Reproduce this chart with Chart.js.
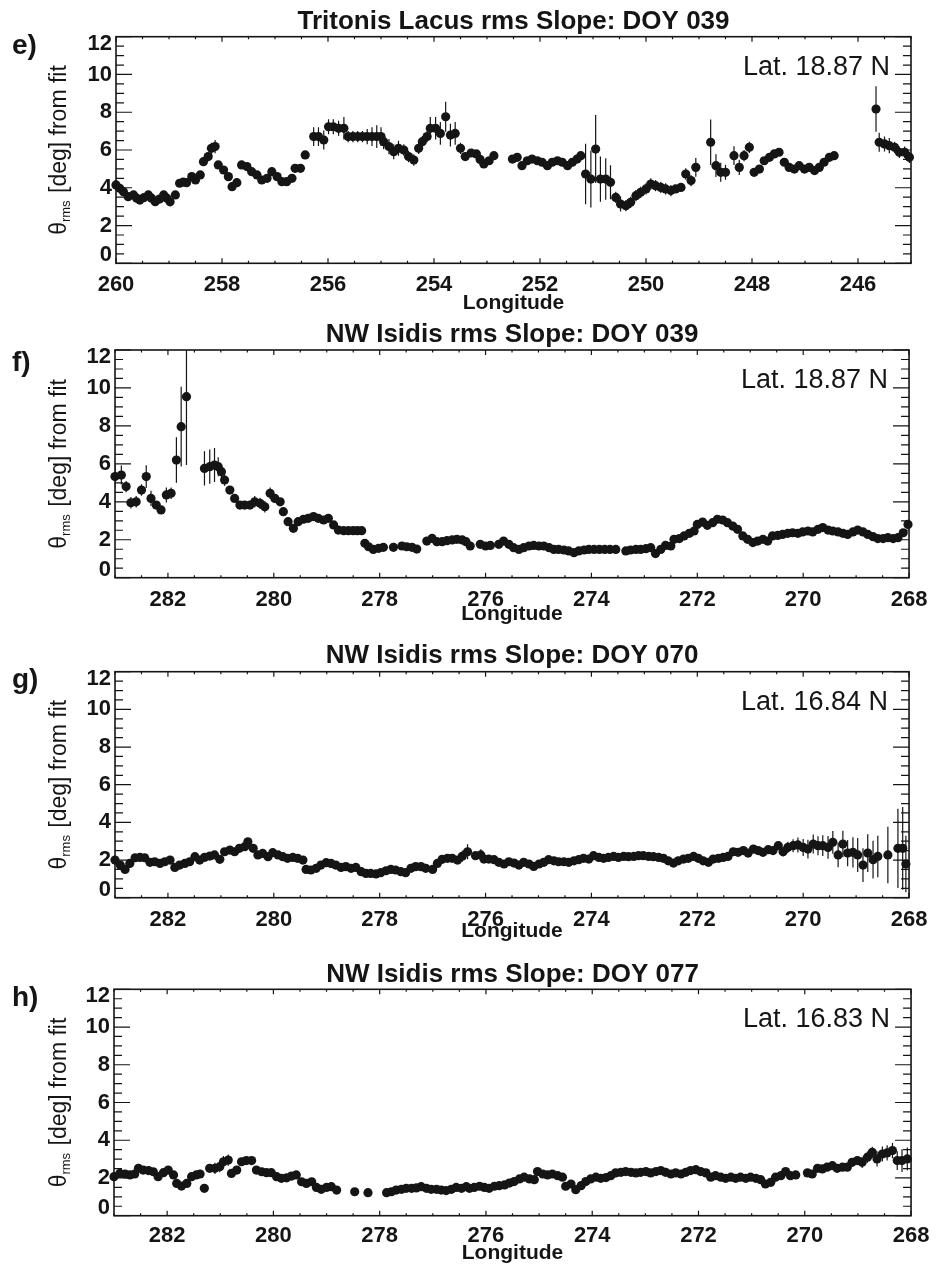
<!DOCTYPE html>
<html>
<head>
<meta charset="utf-8">
<script src="https://cdn.jsdelivr.net/npm/chart.js@4/dist/chart.umd.min.js"></script>
<style>
html,body{margin:0;padding:0;background:#fff;}
#wrap{position:relative;width:936px;height:1270px;overflow:hidden;background:#fff;}
canvas{position:absolute;left:0;}
</style>
</head>
<body>
<div id="wrap">
<canvas id="cE" width="936" height="317" style="top:0px"></canvas>
<canvas id="cF" width="936" height="319" style="top:317px"></canvas>
<canvas id="cG" width="936" height="319" style="top:636px"></canvas>
<canvas id="cH" width="936" height="315" style="top:955px"></canvas>
</div>
<script>
// ---------------- data ----------------
const yTicks = [0, 2, 4, 6, 8, 10, 12];
const xTicksTritonis = [260, 258, 256, 254, 252, 250, 248, 246];
const xTicksIsidis = [282, 280, 278, 276, 274, 272, 270, 268];

const titles = [
  'Tritonis Lacus rms Slope: DOY 039',
  'NW Isidis rms Slope: DOY 039',
  'NW Isidis rms Slope: DOY 070',
  'NW Isidis rms Slope: DOY 077'
];
const panelLetters = ['e)', 'f)', 'g)', 'h)'];
const latLabels = ['Lat. 18.87 N', 'Lat. 18.87 N', 'Lat. 16.84 N', 'Lat. 16.83 N'];
const xTitle = 'Longitude';
const yTitleParts = ['\u03B8', 'rms', ' [deg] from fit'];

// [longitude, rms slope (deg), error (deg)]
const pointsE = [
[260.00,4.15,0.2],[259.93,3.97,0.15],[259.86,3.79,0.15],[259.77,3.53,0.15],[259.67,3.62,0.15],[259.61,3.45,0.15],
[259.55,3.35,0.15],[259.47,3.48,0.15],[259.39,3.62,0.15],[259.33,3.45,0.15],[259.26,3.26,0.15],[259.18,3.40,0.15],
[259.10,3.62,0.2],[259.04,3.45,0.2],[258.98,3.26,0.25],[258.88,3.62,0.2],[258.80,4.24,0.2],[258.73,4.30,0.15],
[258.67,4.27,0.15],[258.57,4.59,0.15],[258.50,4.41,0.15],[258.41,4.68,0.15],[258.35,5.38,0.2],[258.26,5.65,0.25],
[258.20,6.09,0.3],[258.13,6.18,0.35],[258.07,5.21,0.2],[257.97,4.94,0.2],[257.88,4.59,0.15],[257.81,4.06,0.15],
[257.72,4.27,0.15],[257.63,5.21,0.15],[257.53,5.12,0.15],[257.44,4.85,0.15],[257.34,4.68,0.15],[257.25,4.41,0.15],
[257.15,4.50,0.15],[257.06,4.85,0.15],[256.96,4.59,0.15],[256.87,4.32,0.15],[256.78,4.32,0.15],[256.68,4.50,0.15],
[256.62,5.03,0.15],[256.52,5.03,0.2],[256.43,5.74,0.2],[256.27,6.71,0.5],[256.18,6.71,0.5],[256.08,6.53,0.5],
[255.99,7.23,0.4],[255.90,7.23,0.4],[255.80,7.15,0.4],[255.70,7.15,0.6],[255.62,6.71,0.3],[255.53,6.71,0.3],
[255.44,6.71,0.3],[255.35,6.71,0.3],[255.26,6.71,0.4],[255.17,6.71,0.5],[255.08,6.71,0.6],[255.00,6.71,0.5],
[254.95,6.44,0.4],[254.85,6.18,0.4],[254.76,5.91,0.4],[254.67,6.09,0.4],[254.57,6.00,0.3],[254.48,5.65,0.3],
[254.38,5.47,0.3],[254.29,6.09,0.3],[254.22,6.44,0.3],[254.13,6.71,0.3],[254.07,7.15,0.6],[253.97,7.15,0.6],
[253.88,6.88,0.6],[253.78,7.76,0.8],[253.69,6.79,0.6],[253.60,6.88,0.6],[253.50,6.09,0.3],[253.41,5.65,0.2],
[253.30,5.84,0.2],[253.20,5.79,0.2],[253.13,5.50,0.15],[253.06,5.26,0.15],[252.96,5.43,0.15],[252.87,5.70,0.15],
[252.52,5.52,0.1],[252.43,5.61,0.1],[252.34,5.17,0.1],[252.24,5.43,0.1],[252.15,5.52,0.1],[252.05,5.43,0.1],
[251.96,5.35,0.1],[251.86,5.17,0.1],[251.77,5.35,0.1],[251.67,5.43,0.1],[251.58,5.35,0.1],[251.48,5.17,0.1],
[251.39,5.35,0.1],[251.30,5.52,0.15],[251.23,5.70,0.15],[251.14,4.73,1.6],[251.04,4.46,1.5],[250.95,6.05,1.8],
[250.86,4.46,1.2],[250.76,4.46,1.1],[250.67,4.29,0.9],[250.57,3.49,0.3],[250.48,3.14,0.4],[250.38,3.05,0.3],
[250.29,3.23,0.3],[250.19,3.58,0.3],[250.10,3.76,0.3],[250.00,3.94,0.3],[249.91,4.20,0.3],[249.82,4.11,0.3],
[249.72,4.02,0.3],[249.63,3.94,0.3],[249.53,3.85,0.3],[249.44,3.94,0.2],[249.34,4.02,0.2],[249.25,4.73,0.3],
[249.15,4.38,0.3],[249.06,5.08,0.5],[248.78,6.41,1.2],[248.68,5.17,0.6],[248.59,4.82,0.5],[248.50,4.82,0.4],
[248.34,5.70,0.5],[248.24,5.08,0.4],[248.15,5.70,0.3],[248.05,6.14,0.3],[247.96,4.82,0.2],[247.86,4.99,0.2],
[247.77,5.43,0.2],[247.67,5.61,0.2],[247.58,5.79,0.2],[247.49,5.88,0.2],[247.39,5.35,0.15],[247.30,5.08,0.15],
[247.20,4.99,0.1],[247.11,5.17,0.1],[247.01,4.99,0.1],[246.92,5.08,0.1],[246.82,4.91,0.1],[246.73,5.08,0.1],
[246.64,5.35,0.1],[246.54,5.61,0.15],[246.45,5.70,0.15],[245.66,8.17,1.2],[245.60,6.41,0.5],[245.50,6.32,0.4],
[245.41,6.23,0.4],[245.31,6.14,0.3],[245.22,5.88,0.3],[245.12,5.88,0.3],[245.03,5.61,0.3]
];

const pointsF = [
[283.00,5.33,0.6],[282.88,5.41,0.5],[282.79,4.80,0.3],[282.70,3.95,0.3],[282.60,4.00,0.3],[282.50,4.62,0.3],
[282.41,5.33,0.6],[282.32,4.18,0.4],[282.22,3.83,0.2],[282.13,3.57,0.2],[282.03,4.36,0.4],[281.94,4.45,0.3],
[281.84,6.20,1.2],[281.75,7.96,2.1],[281.65,9.54,3.6],[281.31,5.76,0.9],[281.21,5.85,0.9],[281.12,5.94,0.9],
[281.05,5.85,0.5],[280.99,5.59,0.3],[280.93,5.15,0.3],[280.83,4.62,0.2],[280.74,4.18,0.2],[280.64,3.83,0.2],
[280.55,3.83,0.2],[280.45,3.83,0.2],[280.36,4.00,0.3],[280.26,3.92,0.3],[280.17,3.74,0.3],[280.07,4.45,0.3],
[279.98,4.18,0.2],[279.88,4.00,0.2],[279.82,3.48,0.15],[279.73,2.95,0.15],[279.63,2.60,0.1],[279.54,2.95,0.1],
[279.44,3.08,0.1],[279.35,3.13,0.1],[279.25,3.22,0.1],[279.16,3.13,0.1],[279.06,3.04,0.1],[278.97,3.13,0.1],
[278.87,2.78,0.1],[278.78,2.51,0.1],[278.68,2.48,0.1],[278.59,2.48,0.1],[278.50,2.48,0.1],[278.42,2.48,0.1],
[278.34,2.48,0.1],[278.28,1.81,0.1],[278.21,1.63,0.1],[278.12,1.49,0.1],[278.02,1.55,0.1],[277.93,1.60,0.1],
[277.74,1.60,0.1],[277.58,1.67,0.1],[277.49,1.63,0.1],[277.39,1.60,0.1],[277.30,1.51,0.1],[277.11,1.93,0.1],
[277.01,2.07,0.1],[276.92,1.90,0.1],[276.82,1.90,0.1],[276.73,1.95,0.1],[276.63,1.99,0.1],[276.54,2.02,0.1],
[276.44,1.99,0.1],[276.37,1.90,0.1],[276.29,1.67,0.1],[276.10,1.76,0.1],[276.00,1.67,0.1],[275.91,1.70,0.1],
[275.75,1.76,0.1],[275.66,1.93,0.1],[275.56,1.76,0.1],[275.47,1.58,0.1],[275.37,1.49,0.1],[275.28,1.58,0.1],
[275.18,1.67,0.1],[275.09,1.70,0.1],[274.99,1.67,0.1],[274.90,1.67,0.1],[274.80,1.58,0.1],[274.71,1.49,0.1],
[274.62,1.49,0.1],[274.52,1.46,0.1],[274.43,1.41,0.1],[274.33,1.32,0.1],[274.24,1.41,0.1],[274.14,1.46,0.1],
[274.05,1.49,0.1],[273.95,1.49,0.1],[273.85,1.49,0.1],[273.75,1.49,0.1],[273.65,1.49,0.1],[273.54,1.49,0.1],
[273.35,1.41,0.1],[273.26,1.46,0.1],[273.16,1.49,0.1],[273.07,1.49,0.1],[272.97,1.53,0.1],[272.88,1.58,0.1],
[272.79,1.27,0.1],[272.69,1.49,0.1],[272.60,1.70,0.1],[272.50,1.67,0.1],[272.44,2.02,0.1],[272.34,2.06,0.1],
[272.25,2.20,0.1],[272.15,2.34,0.1],[272.06,2.46,0.1],[272.00,2.81,0.1],[271.90,2.93,0.1],[271.81,2.76,0.1],
[271.71,2.90,0.1],[271.62,3.08,0.1],[271.52,3.04,0.1],[271.43,2.90,0.1],[271.33,2.72,0.1],[271.24,2.55,0.1],
[271.14,2.20,0.1],[271.05,2.02,0.1],[270.95,1.85,0.1],[270.86,1.93,0.1],[270.76,2.02,0.1],[270.67,1.93,0.1],
[270.58,2.20,0.1],[270.48,2.23,0.1],[270.39,2.28,0.1],[270.29,2.34,0.1],[270.20,2.37,0.1],[270.10,2.34,0.1],
[270.01,2.41,0.1],[269.91,2.46,0.1],[269.82,2.41,0.1],[269.72,2.55,0.1],[269.63,2.64,0.1],[269.53,2.51,0.1],
[269.44,2.46,0.1],[269.34,2.41,0.1],[269.25,2.34,0.1],[269.16,2.28,0.1],[269.06,2.41,0.1],[268.97,2.51,0.1],
[268.87,2.41,0.1],[268.78,2.28,0.1],[268.68,2.16,0.1],[268.59,2.06,0.1],[268.49,2.06,0.1],[268.40,2.11,0.1],
[268.30,2.06,0.1],[268.21,2.11,0.1],[268.11,2.37,0.1],[268.02,2.81,0.2]
];

const pointsG = [
[283.00,2.00,0.15],[282.90,1.73,0.1],[282.81,1.50,0.1],[282.72,1.82,0.1],[282.62,2.12,0.1],[282.53,2.14,0.1],
[282.44,2.12,0.1],[282.34,1.88,0.1],[282.25,1.91,0.1],[282.15,1.82,0.1],[282.06,1.91,0.1],[281.96,2.00,0.1],
[281.87,1.61,0.1],[281.78,1.73,0.1],[281.68,1.82,0.1],[281.59,1.91,0.1],[281.49,2.18,0.1],[281.40,2.00,0.1],
[281.31,2.14,0.1],[281.21,2.21,0.1],[281.12,2.27,0.1],[281.02,2.04,0.1],[280.93,2.44,0.1],[280.83,2.53,0.1],
[280.74,2.44,0.1],[280.65,2.62,0.1],[280.55,2.71,0.1],[280.49,2.97,0.15],[280.39,2.62,0.1],[280.30,2.27,0.1],
[280.21,2.35,0.1],[280.11,2.18,0.1],[280.02,2.39,0.1],[279.92,2.27,0.1],[279.83,2.18,0.1],[279.74,2.09,0.1],
[279.64,2.14,0.1],[279.55,2.09,0.1],[279.45,2.00,0.1],[279.39,1.50,0.1],[279.30,1.47,0.1],[279.20,1.56,0.1],
[279.11,1.73,0.1],[279.01,1.86,0.1],[278.92,1.82,0.1],[278.83,1.73,0.1],[278.73,1.61,0.1],[278.64,1.65,0.1],
[278.54,1.56,0.1],[278.45,1.61,0.1],[278.35,1.38,0.1],[278.26,1.29,0.1],[278.17,1.29,0.1],[278.07,1.26,0.1],
[277.98,1.33,0.1],[277.88,1.43,0.1],[277.79,1.50,0.1],[277.70,1.47,0.1],[277.60,1.38,0.1],[277.51,1.33,0.1],
[277.41,1.56,0.1],[277.32,1.65,0.1],[277.22,1.65,0.1],[277.13,1.56,0.1],[277.00,1.50,0.1],[276.91,1.82,0.15],
[276.82,2.04,0.2],[276.72,2.09,0.15],[276.63,2.09,0.15],[276.53,2.00,0.2],[276.44,2.20,0.3],[276.34,2.44,0.4],
[276.19,2.23,0.2],[276.09,2.27,0.3],[276.03,2.05,0.15],[275.94,2.05,0.1],[275.84,2.02,0.1],[275.75,1.88,0.1],
[275.65,1.79,0.1],[275.56,1.91,0.1],[275.46,1.84,0.1],[275.37,1.73,0.1],[275.28,1.88,0.1],[275.18,1.79,0.1],
[275.09,1.66,0.1],[274.99,1.79,0.1],[274.90,1.88,0.1],[274.81,2.02,0.1],[274.71,1.96,0.1],[274.62,1.91,0.1],
[274.52,1.91,0.1],[274.43,1.88,0.1],[274.33,1.96,0.1],[274.24,2.02,0.1],[274.15,2.09,0.1],[274.05,2.05,0.1],
[273.96,2.23,0.1],[273.86,2.14,0.1],[273.77,2.09,0.1],[273.68,2.14,0.1],[273.58,2.19,0.1],[273.49,2.14,0.1],
[273.39,2.19,0.1],[273.30,2.18,0.1],[273.20,2.19,0.1],[273.11,2.23,0.1],[273.02,2.23,0.1],[272.92,2.19,0.1],
[272.83,2.18,0.1],[272.73,2.14,0.1],[272.64,2.09,0.1],[272.55,1.96,0.1],[272.45,1.84,0.1],[272.36,1.96,0.1],
[272.26,2.05,0.1],[272.17,2.09,0.1],[272.07,2.19,0.1],[271.98,2.09,0.1],[271.89,1.96,0.1],[271.79,1.88,0.1],
[271.70,2.05,0.1],[271.60,2.09,0.1],[271.51,2.14,0.1],[271.42,2.19,0.1],[271.32,2.44,0.15],[271.23,2.41,0.15],
[271.13,2.50,0.15],[271.04,2.37,0.15],[270.94,2.58,0.15],[270.85,2.50,0.15],[270.76,2.41,0.15],[270.66,2.55,0.2],
[270.57,2.50,0.2],[270.47,2.76,0.2],[270.38,2.44,0.25],[270.29,2.67,0.3],[270.19,2.76,0.35],[270.10,2.80,0.4],
[270.00,2.67,0.45],[269.91,2.58,0.5],[269.81,2.85,0.5],[269.72,2.76,0.5],[269.63,2.76,0.55],[269.53,2.67,0.6],
[269.44,2.94,0.6],[269.34,2.27,0.65],[269.25,2.85,0.7],[269.16,2.37,0.7],[269.06,2.41,0.8],[268.97,2.27,0.9],
[268.87,1.73,0.9],[268.78,2.37,1.0],[268.68,2.02,1.0],[268.59,2.19,1.1],[268.40,2.27,1.5],[268.21,2.62,2.1],
[268.12,2.62,2.2],[268.06,1.79,1.5]
];

const pointsH = [
[283.00,2.07,0.1],[282.89,2.24,0.1],[282.79,2.21,0.1],[282.70,2.16,0.1],[282.61,2.21,0.1],[282.54,2.51,0.1],
[282.45,2.42,0.1],[282.35,2.39,0.1],[282.26,2.33,0.1],[282.17,2.07,0.1],[282.07,2.28,0.1],[281.98,2.42,0.1],
[281.88,2.16,0.1],[281.82,1.71,0.1],[281.73,1.57,0.1],[281.63,1.71,0.1],[281.54,2.07,0.1],[281.45,2.16,0.1],
[281.38,2.21,0.1],[281.30,1.45,0.1],[281.20,2.51,0.2],[281.10,2.51,0.3],[281.01,2.60,0.3],[280.94,2.86,0.3],
[280.85,2.95,0.3],[280.79,2.24,0.1],[280.69,2.42,0.1],[280.60,2.86,0.2],[280.51,2.92,0.2],[280.41,2.92,0.2],
[280.32,2.42,0.1],[280.22,2.33,0.1],[280.13,2.28,0.1],[280.04,2.28,0.1],[279.94,2.07,0.1],[279.85,1.98,0.1],
[279.75,2.01,0.1],[279.66,2.10,0.1],[279.57,2.16,0.1],[279.47,1.80,0.1],[279.38,1.71,0.1],[279.28,1.80,0.1],
[279.19,1.50,0.1],[279.10,1.40,0.1],[279.00,1.50,0.1],[278.91,1.54,0.1],[278.81,1.36,0.1],[278.47,1.27,0.1],
[278.22,1.22,0.1],[277.87,1.22,0.1],[277.78,1.27,0.1],[277.69,1.36,0.1],[277.59,1.40,0.1],[277.50,1.45,0.1],
[277.40,1.45,0.1],[277.31,1.47,0.1],[277.22,1.54,0.1],[277.12,1.45,0.1],[277.03,1.40,0.1],[276.93,1.40,0.1],
[276.84,1.36,0.1],[276.75,1.33,0.1],[276.65,1.40,0.1],[276.56,1.50,0.1],[276.46,1.45,0.1],[276.37,1.54,0.1],
[276.31,1.45,0.1],[276.22,1.50,0.1],[276.12,1.56,0.1],[276.03,1.50,0.1],[275.94,1.45,0.1],[275.84,1.56,0.1],
[275.75,1.59,0.1],[275.65,1.63,0.1],[275.56,1.73,0.1],[275.47,1.81,0.1],[275.37,1.95,0.1],[275.28,2.04,0.1],
[275.18,1.95,0.1],[275.09,1.91,0.1],[275.03,2.34,0.1],[274.93,2.21,0.1],[274.84,2.16,0.1],[274.75,2.21,0.1],
[274.65,2.12,0.1],[274.56,2.04,0.1],[274.50,1.56,0.1],[274.40,1.68,0.1],[274.31,1.38,0.1],[274.21,1.59,0.1],
[274.12,1.81,0.1],[274.03,1.95,0.1],[273.93,2.04,0.1],[273.84,1.98,0.1],[273.74,2.02,0.1],[273.65,2.12,0.1],
[273.56,2.27,0.1],[273.46,2.30,0.1],[273.37,2.34,0.1],[273.27,2.30,0.1],[273.18,2.27,0.1],[273.09,2.30,0.1],
[272.99,2.34,0.1],[272.90,2.27,0.1],[272.80,2.34,0.1],[272.71,2.39,0.1],[272.62,2.30,0.1],[272.52,2.21,0.1],
[272.43,2.27,0.1],[272.33,2.21,0.1],[272.24,2.30,0.1],[272.15,2.39,0.1],[272.05,2.44,0.1],[271.96,2.34,0.1],
[271.86,2.27,0.1],[271.77,2.04,0.1],[271.68,2.12,0.1],[271.58,2.04,0.1],[271.49,1.98,0.1],[271.39,2.04,0.1],
[271.30,1.98,0.1],[271.21,2.04,0.1],[271.11,1.98,0.1],[271.02,2.04,0.1],[270.92,1.98,0.1],[270.83,1.91,0.1],
[270.74,1.68,0.1],[270.64,1.77,0.1],[270.55,2.04,0.1],[270.45,2.12,0.1],[270.36,2.34,0.1],[270.27,2.12,0.1],
[270.17,2.16,0.1],[269.95,2.27,0.1],[269.86,2.21,0.1],[269.76,2.51,0.1],[269.67,2.48,0.1],[269.58,2.57,0.1],
[269.48,2.65,0.15],[269.39,2.51,0.15],[269.29,2.57,0.15],[269.20,2.57,0.15],[269.11,2.83,0.2],[269.01,2.92,0.2],
[268.92,2.83,0.3],[268.82,3.10,0.3],[268.73,3.36,0.3],[268.64,3.01,0.4],[268.54,3.27,0.4],[268.45,3.33,0.4],
[268.35,3.45,0.4],[268.26,2.92,0.5],[268.17,2.92,0.6],[268.07,3.01,0.6]
];

// ---------------- layout / style ----------------
const FONT = '"Liberation Sans", Arial, Helvetica, sans-serif';
const INK = '#151515';
Chart.defaults.font.family = FONT;
Chart.defaults.color = INK;

const panels = [
  {id:'cE', H:317, pts:pointsE, xmin:245, xmax:260, xt:xTicksTritonis, left:116, right:911, bottom:263.3,
   tpt:6.8, tpb:0, xpad:8.5, lpb:1.4, letterY:46},
  {id:'cF', H:319, pts:pointsF, xmin:268, xmax:283, xt:xTicksIsidis, left:115, right:912, bottom:260.7,
   tpt:2.5, tpb:0.6, xpad:8.6, lpb:9.4, letterY:46},
  {id:'cG', H:319, pts:pointsG, xmin:268, xmax:283, xt:xTicksIsidis, left:115, right:911, bottom:261.7,
   tpt:4.5, tpb:1.3, xpad:8.6, lpb:11.4, letterY:44},
  {id:'cH', H:315, pts:pointsH, xmin:268, xmax:283, xt:xTicksIsidis, left:114, right:912, bottom:260.7,
   tpt:4.4, tpb:0, xpad:6.6, lpb:4.4, letterY:43}
];

function makePanelPlugin(P, idx) {
  return {
    id: 'panelDecor' + idx,
    beforeDraw(chart) {
      // keep the end labels of the y axis inside the frame, as in the reference
      const ys = chart.scales.y;
      const items = ys.getLabelItems();
      items.forEach((it, i) => {
        if (it._shifted) return;
        const t = ys.ticks[i];
        if (t && t.value === ys.max) it.options.translation[1] += 7;
        if (t && t.value === ys.min) it.options.translation[1] -= 8;
        it._shifted = true;
      });
    },
    beforeDatasetsDraw(chart) {
      const {ctx, chartArea: a} = chart;
      const xs = chart.scales.x, ys = chart.scales.y;
      ctx.save();
      ctx.beginPath();
      ctx.rect(a.left, a.top, a.right - a.left, a.bottom - a.top);
      ctx.clip();
      ctx.strokeStyle = INK;
      ctx.lineWidth = 1.2;
      ctx.beginPath();
      P.pts.forEach(p => {
        const px = xs.getPixelForValue(p[0]);
        ctx.moveTo(px, ys.getPixelForValue(p[1] - p[2]));
        ctx.lineTo(px, ys.getPixelForValue(p[1] + p[2]));
      });
      ctx.stroke();
      ctx.restore();
    },
    afterDraw(chart) {
      const {ctx, chartArea: a} = chart;
      const xs = chart.scales.x, ys = chart.scales.y;
      ctx.save();
      ctx.strokeStyle = INK;
      // frame
      ctx.lineWidth = 1.6;
      ctx.strokeRect(a.left, a.top, a.right - a.left, a.bottom - a.top);
      // inward ticks
      ctx.lineWidth = 1.2;
      ctx.beginPath();
      const isMajor = (s, v) => s.ticks.some(t => Math.abs(t.value - v) < 1e-6);
      for (let k = 0; ys.min + k * 0.5 <= ys.max + 1e-9; k++) {
        const v = ys.min + k * 0.5;
        const py = ys.getPixelForValue(v);
        const L = isMajor(ys, v) ? 16 : 8;
        ctx.moveTo(a.left, py); ctx.lineTo(a.left + L, py);
        ctx.moveTo(a.right, py); ctx.lineTo(a.right - L, py);
      }
      for (let k = 0; xs.min + k * 0.5 <= xs.max + 1e-9; k++) {
        const v = xs.min + k * 0.5;
        const px = xs.getPixelForValue(v);
        const L = isMajor(xs, v) ? 5 : 2.5;
        ctx.moveTo(px, a.bottom); ctx.lineTo(px, a.bottom - L);
        ctx.moveTo(px, a.top); ctx.lineTo(px, a.top + L);
      }
      ctx.stroke();
      ctx.fillStyle = INK;
      // y-axis title with subscript
      const cy = (a.top + a.bottom) / 2;
      const fMain = '23px ' + FONT, fSub = '13px ' + FONT;
      ctx.font = fMain; const w0 = ctx.measureText(yTitleParts[0]).width;
      const w2 = ctx.measureText(yTitleParts[2]).width;
      ctx.font = fSub; const w1 = ctx.measureText(yTitleParts[1]).width;
      const total = w0 + w1 + 1 + w2;
      ctx.save();
      ctx.translate(66, cy);
      ctx.rotate(-Math.PI / 2);
      ctx.textBaseline = 'alphabetic';
      ctx.textAlign = 'left';
      let xx = -total / 2;
      ctx.font = fMain; ctx.fillText(yTitleParts[0], xx, 0); xx += w0;
      ctx.font = fSub; ctx.fillText(yTitleParts[1], xx, 4); xx += w1 + 1;
      ctx.font = fMain; ctx.fillText(yTitleParts[2], xx, 0);
      ctx.restore();
      // panel letter
      ctx.font = 'bold 28px ' + FONT;
      ctx.textAlign = 'left';
      ctx.textBaseline = 'middle';
      ctx.fillText(panelLetters[idx], 12, P.letterY);
      // latitude label
      ctx.font = '27px ' + FONT;
      ctx.textAlign = 'right';
      ctx.textBaseline = 'alphabetic';
      ctx.fillText(latLabels[idx], a.right - 21, a.top + 38);
      ctx.restore();
    }
  };
}

panels.forEach((P, idx) => {
  const canvas = document.getElementById(P.id);
  new Chart(canvas, {
    type: 'scatter',
    data: {
      datasets: [{
        data: P.pts.map(p => ({x: p[0], y: p[1]})),
        pointRadius: 4.6,
        pointHoverRadius: 4.6,
        pointBorderWidth: 0,
        backgroundColor: INK,
        borderColor: INK,
        clip: false
      }]
    },
    options: {
      responsive: false,
      animation: false,
      events: [],
      layout: {padding: {left: 0, right: 936 - P.right, top: 0, bottom: 0}},
      plugins: {
        legend: {display: false},
        tooltip: {enabled: false},
        title: {
          display: true,
          text: titles[idx],
          fullSize: false,
          color: INK,
          font: {family: FONT, size: 26, weight: 'bold', lineHeight: 1.15},
          padding: {top: P.tpt, bottom: P.tpb}
        }
      },
      scales: {
        x: {
          type: 'linear',
          reverse: true,
          min: P.xmin,
          max: P.xmax,
          afterBuildTicks: s => { s.ticks = P.xt.map(v => ({value: v})); },
          afterFit: s => { s.height = P.H - P.bottom; },
          grid: {display: false, drawTicks: false},
          border: {display: false},
          ticks: {
            autoSkip: false, maxRotation: 0, padding: P.xpad, color: INK,
            font: {family: FONT, size: 22, weight: 'bold', lineHeight: 1.2},
            callback: v => String(v)
          },
          title: {
            display: true, text: xTitle, color: INK,
            font: {family: FONT, size: 21, weight: 'bold', lineHeight: 1.2},
            padding: {top: 0, bottom: P.lpb}
          }
        },
        y: {
          type: 'linear',
          min: 0,
          max: 12,
          afterBuildTicks: s => { s.ticks = yTicks.map(v => ({value: v})); },
          afterFit: s => { s.width = P.left; },
          grid: {display: false, drawTicks: false},
          border: {display: false},
          ticks: {
            autoSkip: false, padding: 4, color: INK,
            font: {family: FONT, size: 22, weight: 'bold', lineHeight: 1.2},
            callback: v => String(v)
          }
        }
      }
    },
    plugins: [makePanelPlugin(P, idx)]
  });
});
</script>
</body>
</html>
